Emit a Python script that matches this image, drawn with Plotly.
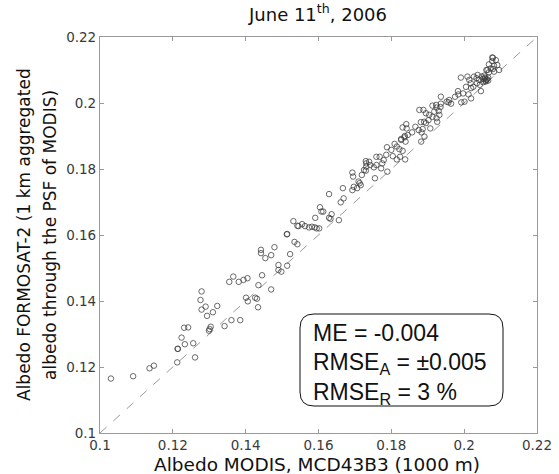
import plotly.graph_objects as go

# Albedo MODIS (x) and FORMOSAT-2 aggregated albedo (y)
modis = [
    0.1030, 0.1091, 0.1136, 0.1148, 0.1212, 0.1261, 0.1213, 0.1214, 0.1233, 0.1224,
    0.1256, 0.1231, 0.1242, 0.1299, 0.1304, 0.1301, 0.1279, 0.1290, 0.1294, 0.1310,
    0.1322, 0.1276, 0.1279, 0.1342, 0.1361, 0.1385, 0.1355, 0.1366, 0.1381, 0.1394,
    0.1405, 0.1401, 0.1406, 0.1426, 0.1431, 0.1434, 0.1435, 0.1445, 0.1442, 0.1442,
    0.1454, 0.1470, 0.1479, 0.1470, 0.1490, 0.1490, 0.1498, 0.1514, 0.1522, 0.1514,
    0.1513, 0.1531, 0.1542, 0.1534, 0.1542, 0.1545, 0.1555, 0.1563, 0.1574, 0.1582,
    0.1590, 0.1595, 0.1602, 0.1656, 0.1629, 0.1636, 0.1633, 0.1604, 0.1608, 0.1613,
    0.1591, 0.1629, 0.1667, 0.1661, 0.1669, 0.1693, 0.1697, 0.1706, 0.1716, 0.1710,
    0.1693, 0.1695, 0.1719, 0.1730, 0.1731, 0.1730, 0.1739, 0.1742, 0.1731, 0.1725,
    0.1752, 0.1759, 0.1755, 0.1772, 0.1775, 0.1779, 0.1768, 0.1759, 0.1786, 0.1789,
    0.1800, 0.1809, 0.1815, 0.1822, 0.1831, 0.1827, 0.1837, 0.1842, 0.1831, 0.1841,
    0.1815, 0.1824, 0.1838, 0.1836, 0.1827, 0.1839, 0.1845, 0.1866, 0.1857, 0.1875,
    0.1883, 0.1886, 0.1881, 0.1890, 0.1907, 0.1882, 0.1891, 0.1877, 0.1888, 0.1895,
    0.1904, 0.1913, 0.1924, 0.1902, 0.1918, 0.1930, 0.1924, 0.1935, 0.1936, 0.1923,
    0.1913, 0.1932, 0.1926, 0.1936, 0.1952, 0.1957, 0.1964, 0.1959, 0.1975, 0.1984,
    0.1983, 0.1997, 0.2012, 0.2005, 0.1992, 0.2001, 0.2019, 0.1991, 0.2009, 0.2014,
    0.2018, 0.2025, 0.2019, 0.2027, 0.2034, 0.2041, 0.2035, 0.2043, 0.2046, 0.2037,
    0.2048, 0.2052, 0.2057, 0.2061, 0.2055, 0.2073, 0.2082, 0.2068, 0.2077, 0.2079,
    0.2087, 0.2091, 0.2096, 0.2082, 0.2068, 0.2061, 0.2079, 0.2066, 0.2059, 0.2052,
    0.2077, 0.2064, 0.1713, 0.1788, 0.1804, 0.1895, 0.2059, 0.2063, 0.2057, 0.2066,
]
formosat = [
    0.1165, 0.1172, 0.1196, 0.1204, 0.1214, 0.1229, 0.1255, 0.1255, 0.1269, 0.1289,
    0.1272, 0.1319, 0.1320, 0.1310, 0.1322, 0.1315, 0.1374, 0.1383, 0.1355, 0.1366,
    0.1385, 0.1403, 0.1429, 0.1324, 0.1342, 0.1342, 0.1458, 0.1474, 0.1458, 0.1464,
    0.1469, 0.1410, 0.1399, 0.1410, 0.1407, 0.1381, 0.1448, 0.1478, 0.1555, 0.1545,
    0.1530, 0.1539, 0.1563, 0.1435, 0.1509, 0.1494, 0.1489, 0.1507, 0.1542, 0.1603,
    0.1602, 0.1642, 0.1628, 0.1579, 0.1572, 0.1627, 0.1633, 0.1627, 0.1623, 0.1625,
    0.1623, 0.1620, 0.1620, 0.1645, 0.1652, 0.1663, 0.1649, 0.1684, 0.1671, 0.1671,
    0.1652, 0.1724, 0.1742, 0.1699, 0.1711, 0.1736, 0.1746, 0.1742, 0.1751, 0.1762,
    0.1789, 0.1777, 0.1782, 0.1795, 0.1817, 0.1824, 0.1822, 0.1812, 0.1807, 0.1797,
    0.1805, 0.1812, 0.1772, 0.1802, 0.1817, 0.1827, 0.1837, 0.1837, 0.1843, 0.1792,
    0.1858, 0.1876, 0.1868, 0.1860, 0.1855, 0.1888, 0.1900, 0.1923, 0.1926, 0.1936,
    0.1829, 0.1837, 0.1829, 0.1896, 0.1891, 0.1883, 0.1903, 0.1928, 0.1911, 0.1918,
    0.1911, 0.1921, 0.1942, 0.1943, 0.1923, 0.1883, 0.1898, 0.1979, 0.1979, 0.1969,
    0.1964, 0.1958, 0.1954, 0.1948, 0.1974, 0.1976, 0.1986, 0.1988, 0.1998, 0.1994,
    0.1992, 0.1964, 0.1943, 0.2019, 0.2004, 0.2002, 0.1998, 0.2009, 0.2019, 0.2026,
    0.2036, 0.2029, 0.2026, 0.2049, 0.2002, 0.2004, 0.2014, 0.2077, 0.2080, 0.2070,
    0.2060, 0.2049, 0.2045, 0.2080, 0.2075, 0.2070, 0.2060, 0.2055, 0.2036, 0.2085,
    0.2080, 0.2073, 0.2077, 0.2070, 0.2083, 0.2105, 0.2113, 0.2117, 0.2127, 0.2137,
    0.2130, 0.2115, 0.2100, 0.2095, 0.2093, 0.2100, 0.2103, 0.2077, 0.2065, 0.2063,
    0.2138, 0.2100, 0.1757, 0.1866, 0.1839, 0.1939, 0.2067, 0.2072, 0.2074, 0.2068,
]

axis_range = [0.1, 0.22]
tick_vals = [0.1, 0.12, 0.14, 0.16, 0.18, 0.2, 0.22]
tick_text = ["0.1", "0.12", "0.14", "0.16", "0.18", "0.2", "0.22"]

title_text = "June 11<sup>th</sup>, 2006"
x_title = "Albedo MODIS, MCD43B3 (1000 m)"
y_title_lines = ["Albedo FORMOSAT-2 (1 km aggregated", "albedo through the PSF of MODIS)"]
stats_lines = ["ME = -0.004", "RMSE<sub>A</sub> = ±0.005", "RMSE<sub>R</sub> = 3 %"]

FONT = "DejaVu Sans, sans-serif"
BOX_FONT = "Liberation Sans, Arial, sans-serif"

# plot area in pixels
L, R, T, B = 100, 537, 37, 433
W, H = R - L, B - T

fig = go.Figure()
fig.add_trace(go.Scatter(
    x=axis_range, y=axis_range, mode="lines",
    line=dict(color="#9a9a9a", width=1, dash="dash"),
    hoverinfo="skip", showlegend=False,
))
fig.add_trace(go.Scatter(
    x=modis, y=formosat, mode="markers",
    marker=dict(symbol="circle-open", size=5.5, color="rgba(60,60,60,0.85)",
                line=dict(width=0.9, color="rgba(60,60,60,0.85)")),
    showlegend=False,
))

axis_common = dict(
    range=axis_range, tickvals=tick_vals, ticktext=tick_text,
    showline=True, linecolor="#9a9a9a", linewidth=1.2, mirror="ticks",
    ticks="inside", ticklen=4, tickcolor="#9a9a9a", tickwidth=1,
    showgrid=False, zeroline=False, automargin=False,
    tickfont=dict(family=FONT, size=13.5, color="#3a3a3a"),
)

fig.update_layout(
    width=559, height=474,
    margin=dict(l=L, r=559 - R, t=T, b=474 - B, autoexpand=False),
    paper_bgcolor="white", plot_bgcolor="white",
    font=dict(family=FONT, color="#111111"),
    xaxis=dict(**axis_common),
    yaxis=dict(**axis_common),
)


def px_x(p):
    return (p - L) / W


def px_y(p):
    return (B - p) / H


# title
fig.add_annotation(text=title_text, xref="paper", yref="paper",
                   x=px_x(317), y=px_y(13), xanchor="center", yanchor="middle",
                   showarrow=False, font=dict(family=FONT, size=18, color="#111111"))
# x-axis title
fig.add_annotation(text=x_title, xref="paper", yref="paper",
                   x=px_x(317), y=px_y(464), xanchor="center", yanchor="middle",
                   showarrow=False, font=dict(family=FONT, size=18.5, color="#111111"))
# y-axis title (two lines)
for cx, line in zip([24, 50], y_title_lines):
    fig.add_annotation(text=line, xref="paper", yref="paper",
                       x=px_x(cx), y=0.5, xanchor="center", yanchor="middle",
                       textangle=-90, showarrow=False,
                       font=dict(family=FONT, size=17, color="#111111"))

# rounded statistics box
x0, x1 = px_x(300), px_x(503)
y0, y1 = px_y(406), px_y(314)
rx, ry = 14 / W, 14 / H
path = (f"M {x0+rx},{y0} L {x1-rx},{y0} Q {x1},{y0} {x1},{y0+ry} "
        f"L {x1},{y1-ry} Q {x1},{y1} {x1-rx},{y1} L {x0+rx},{y1} "
        f"Q {x0},{y1} {x0},{y1-ry} L {x0},{y0+ry} Q {x0},{y0} {x0+rx},{y0} Z")
fig.add_shape(type="path", path=path, xref="paper", yref="paper",
              line=dict(color="#111111", width=1), fillcolor="white")

for i, line in enumerate(stats_lines):
    fig.add_annotation(
        text=line, xref="paper", yref="paper",
        x=px_x(311), y=px_y(333 + 30 * i),
        xanchor="left", yanchor="middle", showarrow=False,
        font=dict(family=BOX_FONT, size=23, color="#111111"),
    )

fig.write_html(
    "out.html",
    config={"responsive": False, "displayModeBar": False},
    post_script="document.body.style.margin='0px';document.body.style.overflow='hidden';",
)
